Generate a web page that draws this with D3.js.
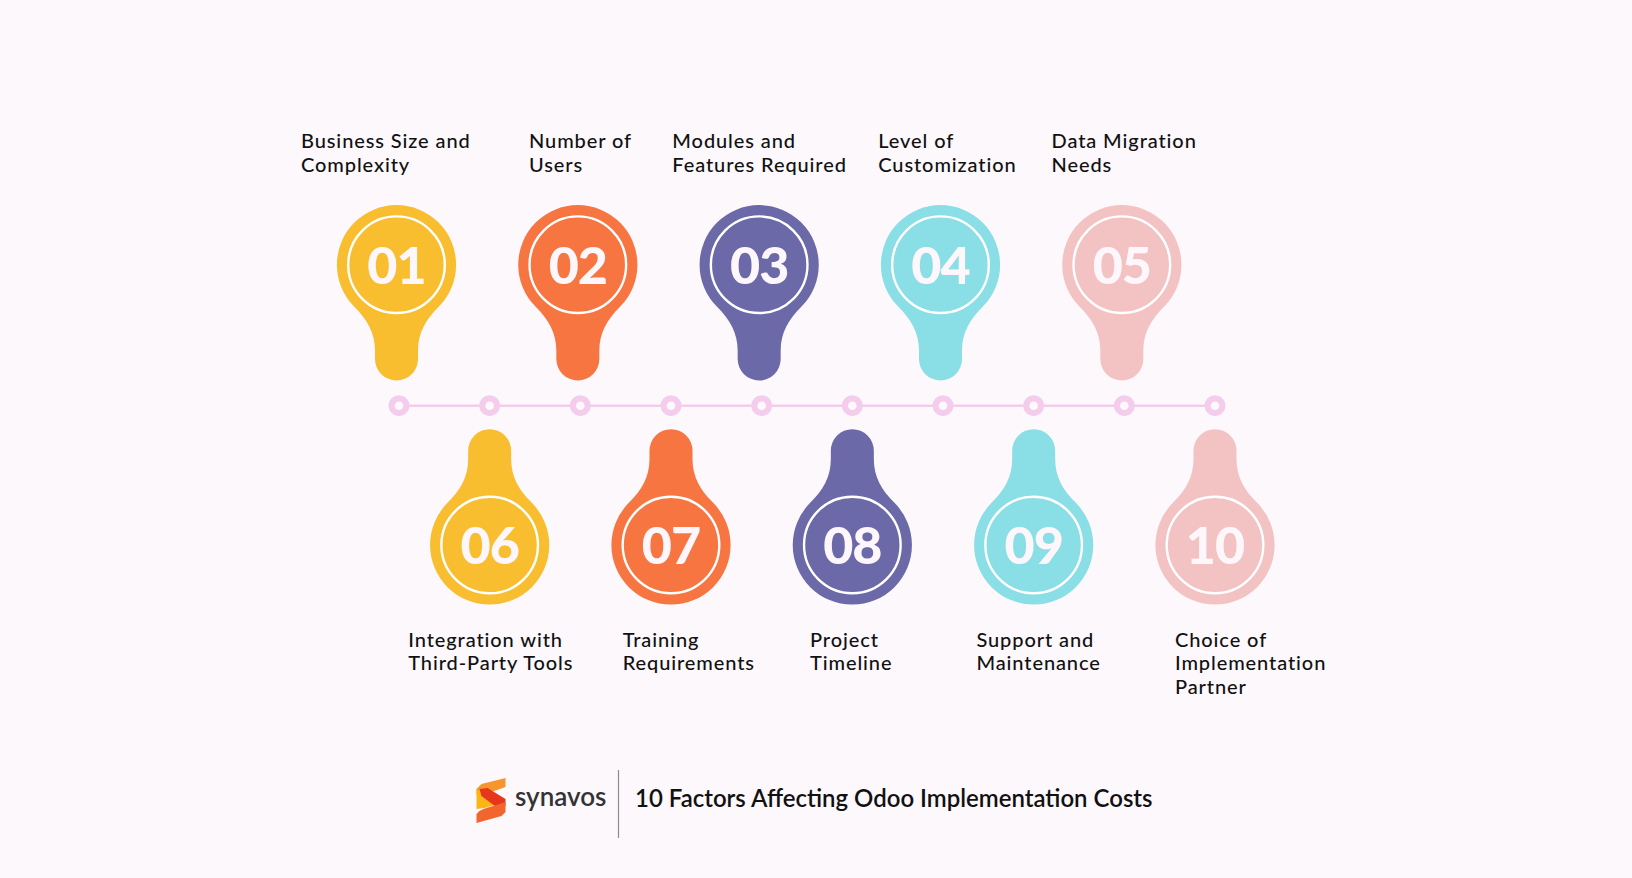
<!DOCTYPE html>
<html>
<head>
<meta charset="utf-8">
<script src="https://cdn.jsdelivr.net/npm/d3@7"></script>
<style>
  html, body { margin: 0; padding: 0; background: #FDF8FC; }
  svg { display: block; }
</style>
</head>
<body>
<svg id="chart" width="1632" height="878"></svg>
<script>
// ---------- data ----------
const factorNumbers = ["01", "02", "03", "04", "05", "06", "07", "08", "09", "10"];
const factorLabels = [
  ["Business Size and", "Complexity"],
  ["Number of", "Users"],
  ["Modules and", "Features Required"],
  ["Level of", "Customization"],
  ["Data Migration", "Needs"],
  ["Integration with", "Third-Party Tools"],
  ["Training", "Requirements"],
  ["Project", "Timeline"],
  ["Support and", "Maintenance"],
  ["Choice of", "Implementation", "Partner"]
];
const timelineSteps = [0, 1, 2, 3, 4, 5, 6, 7, 8, 9];
const brandName = "synavos";
const chartTitle = "10 Factors Affecting Odoo Implementation Costs";

// ---------- styles / layout ----------
const palette = ["#F8BE30", "#F67541", "#6B69A8", "#8ADEE5", "#F3C3C3"];
const labelOffsets = [-95.5, -48.8, -86.8, -62.2, -70.3, -81.4, -48.3, -42.3, -57.2, -40];
const FONT = "'Lato', 'Noto Sans', sans-serif";

const svg = d3.select("#chart");
svg.append("rect").attr("width", 1632).attr("height", 878).attr("fill", "#FDF8FC");

const x = d3.scaleLinear().domain([0, 9]).range([399, 1215]);
const lineY = 405.7;
const topCY = 264.7, botCY = 545;

// timeline position for each factor
const stepOf = i => (i < 5 ? 2 * i : 2 * (i - 5) + 1);
const isTop = i => i < 5;

// ---------- timeline ----------
svg.append("line")
  .attr("x1", x(0)).attr("x2", x(9))
  .attr("y1", lineY).attr("y2", lineY)
  .attr("stroke", "#F3CDEB").attr("stroke-width", 2.4);

svg.selectAll("circle.dot").data(timelineSteps).join("circle")
  .attr("class", "dot")
  .attr("cx", d => x(d)).attr("cy", lineY)
  .attr("r", 7.4)
  .attr("fill", "#FDF8FC")
  .attr("stroke", "#F3CDEB").attr("stroke-width", 6.2);

// ---------- bulb shape (tip pointing +y) ----------
function bulbPath() {
  const R = 59.6, a = Math.PI / 4;
  const px = R * Math.cos(a), py = R * Math.sin(a);
  const w = 21.5, tip = 115.8, neck = 86;
  const k = 18;
  const p = d3.path();
  p.moveTo(px, py);
  p.bezierCurveTo(px - k * 0.707, py + k * 0.707, w, neck - 18, w, neck);
  p.lineTo(w, tip - w);
  p.arc(0, tip - w, w, 0, Math.PI, false);
  p.lineTo(-w, neck);
  p.bezierCurveTo(-w, neck - 18, -px + k * 0.707, py + k * 0.707, -px, py);
  p.arc(0, 0, R, Math.PI - a, a, false);
  p.closePath();
  return p.toString();
}
const bulbD = bulbPath();

const bulbs = svg.selectAll("g.bulb").data(factorNumbers).join("g")
  .attr("class", "bulb")
  .attr("transform", (d, i) => {
    const cx = x(stepOf(i)) + (isTop(i) ? -2.5 : 0);
    const cy = isTop(i) ? topCY : botCY;
    return `translate(${cx},${cy})`;
  });

bulbs.append("path")
  .attr("d", bulbD)
  .attr("transform", (d, i) => isTop(i) ? null : "scale(1,-1)")
  .attr("fill", (d, i) => palette[i % 5]);

bulbs.append("circle")
  .attr("r", 48.3)
  .attr("fill", "none")
  .attr("stroke", "#FFFFFF")
  .attr("stroke-width", 2.4);

bulbs.append("text")
  .text(d => d)
  .attr("text-anchor", "middle")
  .attr("y", 18.8)
  .attr("font-family", FONT)
  .attr("font-weight", 900)
  .attr("font-size", 52)
  .attr("letter-spacing", -1)
  .attr("fill", "#FDF7FB");

// ---------- labels ----------
const lineH = 23.4;
svg.selectAll("text.label").data(factorLabels).join("text")
  .attr("class", "label")
  .attr("font-family", FONT)
  .attr("font-size", 20)
  .attr("font-weight", 500)
  .attr("letter-spacing", 0.9)
  .attr("fill", "#111111")
  .each(function (lines, i) {
    const cx = x(stepOf(i)) + (isTop(i) ? -2.5 : 0);
    const left = cx + labelOffsets[i];
    const y0 = isTop(i) ? 148.3 : 646.7;
    d3.select(this).selectAll("tspan").data(lines).join("tspan")
      .attr("x", left)
      .attr("y", (l, j) => y0 + j * lineH)
      .text(l => l);
  });

// ---------- footer ----------
const logo = svg.append("g").attr("transform", "translate(476.5,778)");
const logoParts = [
  { c: "#F7942D", pts: [[5, 6], [29, 0], [29, 9], [12, 15], [0, 16], [0, 11]] },
  { c: "#FDB515", pts: [[0, 12], [7, 12], [18, 27], [8, 30], [0, 31]] },
  { c: "#E5361E", pts: [[3, 11], [11, 10], [29, 21], [29, 28], [21, 30], [5, 18]] },
  { c: "#F2652C", pts: [[7, 31], [29, 24], [29, 34], [25, 38], [0, 45], [0, 36], [3, 33]] }
];
logo.selectAll("path").data(logoParts).join("path")
  .attr("d", d => d3.line().curve(d3.curveLinearClosed)(d.pts))
  .attr("fill", d => d.c);

svg.append("text")
  .attr("x", 515).attr("y", 806)
  .attr("font-family", FONT)
  .attr("font-size", 26)
  .attr("font-weight", 600)
  .attr("fill", "#333333")
  .text(brandName);

svg.append("line")
  .attr("x1", 618.5).attr("x2", 618.5)
  .attr("y1", 770).attr("y2", 838)
  .attr("stroke", "#8C8C8C").attr("stroke-width", 1.2);

const title = svg.append("text")
  .attr("x", 635).attr("y", 806.7)
  .attr("font-family", FONT)
  .attr("font-size", 24)
  .attr("font-weight", 600)
  .attr("fill", "#111111")
  .text(chartTitle);
const tw = title.node().getComputedTextLength();
if (tw > 0) title.attr("font-size", 24 * 518 / tw);
</script>
</body>
</html>
